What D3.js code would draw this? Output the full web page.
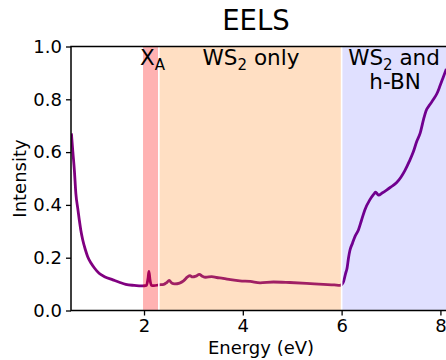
<!DOCTYPE html>
<html>
<head>
<meta charset="utf-8">
<script src="https://cdn.jsdelivr.net/npm/d3@7"></script>
<style>
  body { margin: 0; background: #fff; }
  svg { display: block; font-family: "DejaVu Sans", sans-serif; }
</style>
</head>
<body>
<div id="chart"></div>
<script>
// EELS spectrum, values
const energy = [0.53, 0.56, 0.59, 0.62, 0.66, 0.69, 0.72, 0.76, 0.81, 0.86, 0.93, 1.00, 1.09, 1.20, 1.37, 1.50, 1.63, 1.80, 1.97,
  2.05, 2.08, 2.10, 2.12, 2.15, 2.20, 2.30, 2.40, 2.46, 2.51, 2.56, 2.62, 2.72, 2.80, 2.88, 2.93, 2.98, 3.05, 3.12, 3.18, 3.25,
  3.37, 3.47, 3.60, 3.75, 3.94, 4.15, 4.35, 4.62, 4.95, 5.29, 5.63, 5.85, 5.97,
  6.01, 6.04, 6.08, 6.11, 6.14, 6.17, 6.22, 6.27, 6.34, 6.40, 6.47, 6.57, 6.64, 6.69, 6.72, 6.75, 6.82, 6.91, 7.00,
  7.11, 7.20, 7.28, 7.37, 7.45, 7.52, 7.59, 7.66, 7.71, 7.78, 7.86, 7.93, 7.99, 8.05, 8.12];
const intensity = [0.671, 0.600, 0.532, 0.444, 0.385, 0.343, 0.305, 0.267, 0.232, 0.204, 0.179, 0.160, 0.141, 0.128, 0.116, 0.107, 0.099, 0.095, 0.093,
  0.095, 0.120, 0.148, 0.118, 0.095, 0.094, 0.097, 0.099, 0.106, 0.114, 0.104, 0.101, 0.104, 0.112, 0.127, 0.132, 0.127, 0.130, 0.137, 0.130, 0.126,
  0.128, 0.125, 0.122, 0.117, 0.112, 0.110, 0.105, 0.108, 0.106, 0.103, 0.099, 0.097, 0.095,
  0.100, 0.110, 0.140, 0.160, 0.200, 0.229, 0.255, 0.280, 0.305, 0.340, 0.381, 0.419, 0.438, 0.448, 0.442, 0.437, 0.445, 0.456, 0.468,
  0.484, 0.505, 0.530, 0.565, 0.600, 0.640, 0.672, 0.725, 0.757, 0.778, 0.800, 0.822, 0.850, 0.880, 0.915];

// shaded regions (eV) and their colours
const regionStart = [1.98, 2.30, 6.00];
const regionEnd = [2.30, 6.00, 9.00];
const regionColor = ["#ff0000", "#ff7f0e", "#0000ff"];
const regionAlpha = [0.3, 0.25, 0.12];

const xTicks = [2, 4, 6, 8];
const yTicks = [0, 0.2, 0.4, 0.6, 0.8, 1.0];

const W = 446, H = 360;
const mLeft = 71, mTop = 46.5, mBottom = 310.5;

const svg = d3.select("#chart").append("svg")
  .attr("width", W)
  .attr("height", H);

const x = d3.scaleLinear().domain([0.522, 8.12]).range([mLeft, mLeft + (8.12 - 0.522) * 49.4]);
const y = d3.scaleLinear().domain([0, 1]).range([mBottom, mTop]);

svg.append("defs").append("clipPath").attr("id", "plot-clip")
  .append("rect")
  .attr("x", mLeft).attr("y", mTop)
  .attr("width", W - mLeft).attr("height", mBottom - mTop);

const plot = svg.append("g").attr("clip-path", "url(#plot-clip)");

// spectrum first, spans are drawn over it (tints the line like the original)
const pts = energy.map((e, i) => [e, intensity[i]]);
plot.append("path")
  .datum(pts)
  .attr("fill", "none")
  .attr("stroke", "#800080")
  .attr("stroke-width", 2.8)
  .attr("stroke-linejoin", "round")
  .attr("d", d3.line().x(d => x(d[0])).y(d => y(d[1])).curve(d3.curveMonotoneX));

regionStart.forEach((s, i) => {
  plot.append("rect")
    .attr("x", x(s))
    .attr("y", y(1))
    .attr("width", x(regionEnd[i]) - x(s))
    .attr("height", y(0) - y(1))
    .attr("fill", regionColor[i])
    .attr("fill-opacity", regionAlpha[i]);
});

// white edges between spans
[2.30, 6.00].forEach(v => {
  plot.append("line")
    .attr("x1", x(v)).attr("x2", x(v))
    .attr("y1", y(1)).attr("y2", y(0))
    .attr("stroke", "#fff")
    .attr("stroke-width", 1.6);
});

// axes
const xAxis = svg.append("g")
  .attr("transform", `translate(0,${mBottom})`)
  .call(d3.axisBottom(x).tickValues(xTicks).tickFormat(d3.format("d")).tickSize(5).tickPadding(4));
const yAxis = svg.append("g")
  .attr("transform", `translate(${mLeft},0)`)
  .call(d3.axisLeft(y).tickValues(yTicks).tickFormat(d3.format(".1f")).tickSize(5).tickPadding(4));

[xAxis, yAxis].forEach(a => {
  a.select(".domain").remove();
  a.selectAll(".tick line").attr("stroke", "#000").attr("stroke-width", 1.3);
  a.selectAll(".tick text")
    .attr("fill", "#000")
    .style("font-family", "DejaVu Sans")
    .style("font-size", "18px");
});

// spines
svg.append("path")
  .attr("d", `M${W + 2},${mTop}H${mLeft}V${mBottom}H${W + 2}`)
  .attr("fill", "none")
  .attr("stroke", "#000")
  .attr("stroke-width", 1.5);

// labels
svg.append("text")
  .attr("x", 256).attr("y", 30)
  .attr("text-anchor", "middle")
  .attr("font-size", "27.5px")
  .text("EELS");

svg.append("text")
  .attr("x", 261).attr("y", 354)
  .attr("text-anchor", "middle")
  .attr("font-size", "18px")
  .text("Energy (eV)");

svg.append("text")
  .attr("transform", `translate(26,${(mTop + mBottom) / 2}) rotate(-90)`)
  .attr("text-anchor", "middle")
  .attr("font-size", "18px")
  .text("Intensity");

// region annotations
const annSize = "21.5px", subSize = "15px";

const xa = svg.append("text")
  .attr("x", 152.5).attr("y", 65)
  .attr("text-anchor", "middle")
  .attr("font-size", annSize);
xa.append("tspan").text("X");
xa.append("tspan").attr("dy", 5).attr("font-size", subSize).text("A");

const ws = svg.append("text")
  .attr("x", 251).attr("y", 65)
  .attr("text-anchor", "middle")
  .attr("font-size", annSize);
ws.append("tspan").text("WS");
ws.append("tspan").attr("dy", 5).attr("font-size", subSize).text("2");
ws.append("tspan").attr("dy", -5).text(" only");

// two-line label kept as one text element
const wb = svg.append("text")
  .attr("x", 394).attr("y", 65)
  .attr("text-anchor", "middle")
  .attr("font-size", annSize);
wb.append("tspan").text("WS");
wb.append("tspan").attr("dy", 5).attr("font-size", subSize).text("2");
wb.append("tspan").attr("dy", -5).text(" and");
wb.append("tspan").attr("x", 395).attr("y", 88.5).text("h-BN");
</script>
</body>
</html>
